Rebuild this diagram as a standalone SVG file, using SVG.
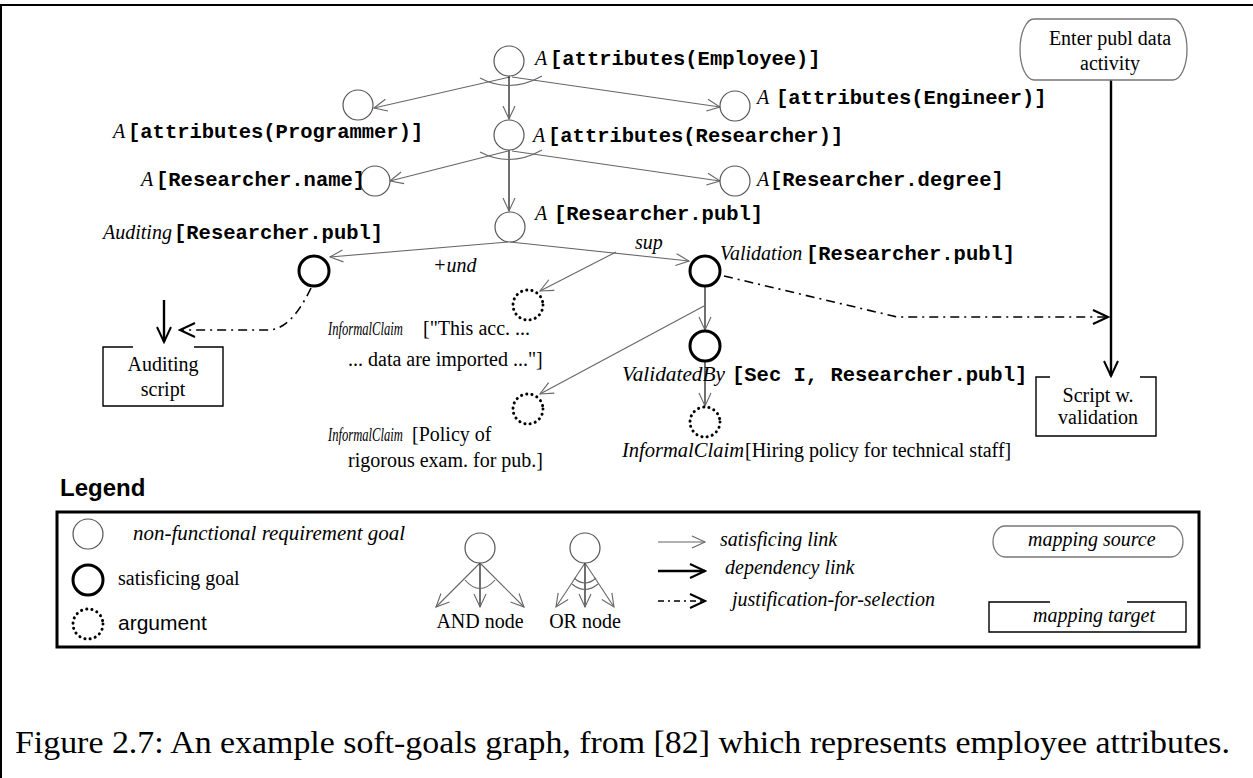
<svg xmlns="http://www.w3.org/2000/svg" width="1253" height="778" viewBox="0 0 1253 778">
  <style>
    .bg { fill: #ffffff; }
    .frame { stroke: #000; stroke-width: 2; fill: none; }
    .nfr { fill: #fff; stroke: #555; stroke-width: 1.2; }
    .sat { fill: #fff; stroke: #000; stroke-width: 3; }
    .arg { fill: #fff; stroke: #000; stroke-width: 3; stroke-dasharray: 0.1 5.2; stroke-linecap: round; }
    .thin { fill: none; stroke: #666; stroke-width: 1.1; }
    .dark { fill: none; stroke: #222; stroke-width: 1.3; }
    .dep { fill: none; stroke: #000; stroke-width: 2.4; }
    .just { fill: none; stroke: #000; stroke-width: 1.6; stroke-dasharray: 9 5 2 5; }
    .box { fill: none; stroke: #000; stroke-width: 1.4; }
    .src { fill: #fff; stroke: #777; stroke-width: 1.3; }
    .mono { font-family: "Liberation Mono", "DejaVu Sans Mono", monospace; font-weight: bold; font-size: 20.5px; }
    .it { font-family: "Liberation Serif", "DejaVu Serif", serif; font-style: italic; font-size: 20px; }
    .small { font-size: 18px; }
    .ser { font-family: "Liberation Serif", "DejaVu Serif", serif; font-size: 20px; }
    .sans { font-family: "Liberation Sans", Arial, sans-serif; font-size: 21px; }
    .title { font-family: "Liberation Sans", Arial, sans-serif; font-weight: bold; font-size: 24px; }
    .caption { font-family: "Liberation Serif", "Times New Roman", serif; font-size: 32px; }
    .mid { text-anchor: middle; }
  </style>
  <defs>
    <marker id="arrThin" markerUnits="userSpaceOnUse" markerWidth="16" markerHeight="14" viewBox="0 0 16 14" refX="14" refY="7" orient="auto">
      <path d="M1,1 L14,7 L1,13" fill="none" stroke="#666" stroke-width="1.1"/>
    </marker>
    <marker id="arrBold" markerUnits="userSpaceOnUse" markerWidth="18" markerHeight="16" viewBox="0 0 18 16" refX="16" refY="8" orient="auto">
      <path d="M1,1 L16,8 L1,15" fill="none" stroke="#000" stroke-width="2"/>
    </marker>
  </defs>

  <rect class="bg" x="0" y="0" width="1253" height="778"/>
  <!-- page frame -->
  <path class="frame" d="M0,5 L1253,5 M1,5 L1,778"/>

  <!-- connectors -->
  <g id="connectors">
    <path class="thin" d="M510,77 L374,108" marker-end="url(#arrThin)"/>
    <path class="thin" d="M512,77 L720,107" marker-end="url(#arrThin)"/>
    <path class="dark" d="M509,76 L509,119" marker-end="url(#arrThin)"/>
    <path class="thin" d="M480,78 Q510,94 542,76"/>
    <path class="thin" d="M508,151 L390,181" marker-end="url(#arrThin)"/>
    <path class="thin" d="M512,151 L720,181" marker-end="url(#arrThin)"/>
    <path class="dark" d="M509,150 L509,211" marker-end="url(#arrThin)"/>
    <path class="thin" d="M480,152 Q510,168 542,150"/>
    <path class="thin" d="M508,242 L330,257" marker-end="url(#arrThin)"/>
    <path class="thin" d="M510,242 L689,261" marker-end="url(#arrThin)"/>
    <path class="thin" d="M616,252 L540,291" marker-end="url(#arrThin)"/>
    <path class="dark" d="M705,287 L705,330" marker-end="url(#arrThin)"/>
    <path class="thin" d="M704,306 L540,394" marker-end="url(#arrThin)"/>
    <path class="dark" d="M705,362 L705,406" marker-end="url(#arrThin)"/>
    <path class="just" d="M724,276 L893,316 Q896,317 902,317 L1108,317" marker-end="url(#arrBold)"/>
    <path class="just" d="M311,288 Q292,328 270,330 L180,330" marker-end="url(#arrBold)"/>
    <path class="dep" d="M164,300 L164,342" marker-end="url(#arrBold)"/>
    <path class="dep" d="M1111,79 L1111,376" marker-end="url(#arrBold)"/>
    <text class="it" x="433" y="272">+und</text>
    <text class="it" x="635" y="249">sup</text>
  </g>

  <!-- goal nodes -->
  <g id="employee">
    <circle class="nfr" cx="509" cy="61" r="15"/>
    <text y="65"><tspan class="it" x="535">A</tspan><tspan class="mono" x="550">[attributes(Employee)]</tspan></text>
  </g>
  <g id="programmer">
    <circle class="nfr" cx="358" cy="105" r="15"/>
    <text y="138"><tspan class="it" x="113">A</tspan><tspan class="mono" x="128">[attributes(Programmer)]</tspan></text>
  </g>
  <g id="engineer">
    <circle class="nfr" cx="735" cy="106" r="15"/>
    <text y="104"><tspan class="it" x="757">A</tspan><tspan class="mono" x="776">[attributes(Engineer)]</tspan></text>
  </g>
  <g id="researcher">
    <circle class="nfr" cx="509" cy="135" r="15"/>
    <text y="142"><tspan class="it" x="533">A</tspan><tspan class="mono" x="548">[attributes(Researcher)]</tspan></text>
  </g>
  <g id="researcher-name">
    <circle class="nfr" cx="375" cy="181" r="15"/>
    <text y="186"><tspan class="it" x="141">A</tspan><tspan class="mono" x="156">[Researcher.name]</tspan></text>
  </g>
  <g id="researcher-degree">
    <circle class="nfr" cx="735" cy="181" r="15"/>
    <text y="186"><tspan class="it" x="757">A</tspan><tspan class="mono" x="770">[Researcher.degree]</tspan></text>
  </g>
  <g id="researcher-publ">
    <circle class="nfr" cx="510" cy="227" r="15"/>
    <text y="220"><tspan class="it" x="535">A</tspan><tspan class="mono" x="554">[Researcher.publ]</tspan></text>
  </g>
  <g id="auditing">
    <circle class="sat" cx="314" cy="271" r="15"/>
    <text y="239"><tspan class="it" x="103">Auditing</tspan><tspan class="mono" x="174">[Researcher.publ]</tspan></text>
  </g>
  <g id="validation">
    <circle class="sat" cx="705" cy="271" r="15"/>
    <text y="260"><tspan class="it" x="720">Validation</tspan><tspan class="mono" x="806">[Researcher.publ]</tspan></text>
  </g>
  <g id="validated-by">
    <circle class="sat" cx="705" cy="346" r="15"/>
    <text y="381"><tspan class="it" x="622" textLength="103" lengthAdjust="spacingAndGlyphs">ValidatedBy</tspan><tspan class="mono" x="732">[Sec I, Researcher.publ]</tspan></text>
  </g>
  <g id="claim-accounting">
    <circle class="arg" cx="528" cy="305" r="15"/>
    <text class="it small" transform="translate(328,335) scale(0.7,1)">InformalClaim</text>
    <text class="ser" x="423" y="335">["This acc. ...</text>
    <text class="ser" x="348" y="366">... data are imported ..."]</text>
  </g>
  <g id="claim-policy">
    <circle class="arg" cx="528" cy="409" r="15"/>
    <text class="it small" transform="translate(328,441) scale(0.7,1)">InformalClaim</text>
    <text class="ser" x="412" y="441">[Policy of</text>
    <text class="ser" x="348" y="467">rigorous exam. for pub.]</text>
  </g>
  <g id="claim-hiring">
    <circle class="arg" cx="705" cy="422" r="15"/>
    <text y="457"><tspan class="it" x="622" textLength="122" lengthAdjust="spacingAndGlyphs">InformalClaim</tspan><tspan class="ser" x="745">[Hiring policy for technical staff]</tspan></text>
  </g>

  <!-- mapping source and targets -->
  <g id="enter-publ">
    <path class="src" d="M1034,19 L1173,19 A14,30.5 0 0 1 1173,80 L1034,80 A14,30.5 0 0 1 1034,19 Z"/>
    <text class="ser mid" x="1110" y="45">Enter publ data</text>
    <text class="ser mid" x="1110" y="70">activity</text>
  </g>
  <g id="auditing-script">
    <path class="box" d="M133,347 L103,347 L103,406 L223,406 L223,347 L194,347"/>
    <text class="ser mid" x="163" y="371">Auditing</text>
    <text class="ser mid" x="163" y="396">script</text>
  </g>
  <g id="script-validation">
    <path class="box" d="M1050,377 L1036,377 L1036,436 L1156,436 L1156,377 L1140,377"/>
    <text class="ser mid" x="1098" y="402">Script w.</text>
    <text class="ser mid" x="1098" y="424">validation</text>
  </g>

  <!-- legend -->
  <g id="legend">
    <text class="title" x="60" y="496">Legend</text>
    <rect x="57" y="512" width="1142" height="135" fill="none" stroke="#000" stroke-width="3"/>

    <circle class="nfr" cx="88" cy="534" r="15"/>
    <text class="it" x="133" y="540" textLength="272" lengthAdjust="spacingAndGlyphs">non-functional requirement goal</text>
    <circle class="sat" cx="88" cy="580" r="15"/>
    <text class="ser" x="118" y="585">satisficing goal</text>
    <circle class="arg" cx="88" cy="624" r="15"/>
    <text class="sans" x="118" y="630">argument</text>

    <circle class="nfr" cx="480" cy="548" r="15"/>
    <path class="thin" d="M480,563 L436,607" marker-end="url(#arrThin)"/>
    <path class="dark" d="M480,563 L480,607" marker-end="url(#arrThin)"/>
    <path class="thin" d="M480,563 L524,607" marker-end="url(#arrThin)"/>
    <path class="thin" d="M465,580 Q480,597 495,580"/>
    <text class="ser mid" x="480" y="628">AND node</text>

    <circle class="nfr" cx="585" cy="548" r="15"/>
    <path class="thin" d="M585,563 L556,607" marker-end="url(#arrThin)"/>
    <path class="dark" d="M585,563 L585,607" marker-end="url(#arrThin)"/>
    <path class="thin" d="M585,563 L614,607" marker-end="url(#arrThin)"/>
    <path class="thin" d="M574,578 Q585,588 596,578"/>
    <path class="thin" d="M572,584 Q585,595 598,584"/>
    <text class="ser mid" x="585" y="628">OR node</text>

    <path class="thin" d="M658,542 L705,542" marker-end="url(#arrThin)"/>
    <text class="it" x="720" y="546">satisficing link</text>
    <path class="dep" d="M658,571 L705,571" marker-end="url(#arrBold)"/>
    <text class="it" x="725" y="574">dependency link</text>
    <path class="just" d="M658,601 L705,601" style="stroke-dasharray: 6 4 2 4" marker-end="url(#arrBold)"/>
    <text class="it" x="732" y="606">justification-for-selection</text>

    <path class="src" d="M1005,526 L1171,526 A12,15.5 0 0 1 1171,557 L1005,557 A12,15.5 0 0 1 1005,526 Z"/>
    <text class="it" x="1028" y="546">mapping source</text>
    <path class="box" d="M1050,602 L989,602 L989,632 L1186,632 L1186,602 L1127,602"/>
    <text class="it" x="1033" y="622">mapping target</text>
  </g>

  <!-- caption -->
  <text class="caption" x="15" y="753" textLength="1215" lengthAdjust="spacingAndGlyphs">Figure 2.7: An example soft-goals graph, from  [82] which represents employee attributes.</text>
</svg>
